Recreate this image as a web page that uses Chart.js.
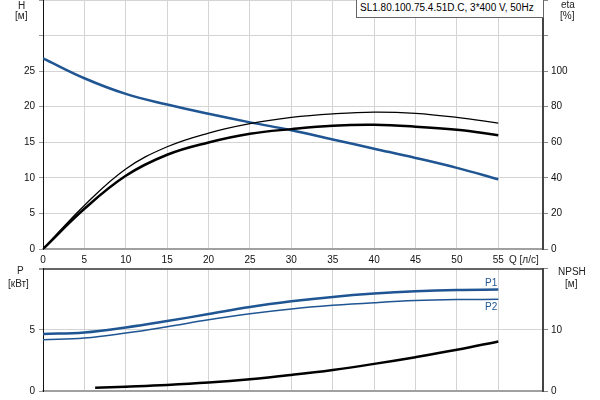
<!DOCTYPE html>
<html>
<head>
<meta charset="utf-8">
<script src="https://cdn.jsdelivr.net/npm/chart.js@4"></script>
<style>
  body { margin: 0; background: #fff; width: 600px; height: 400px; overflow: hidden; position: relative; }
  .wrap { position: absolute; left: 0; width: 600px; }
  .lbl { position: absolute; font: 10px 'Liberation Sans', Arial, sans-serif; line-height: 12px; color: #222; white-space: nowrap; }
  .title { position: absolute; left: 356px; top: -1px; width: 183px; height: 15px; border: 1px solid #666; background: #fff;
           font: 10px 'Liberation Sans', Arial, sans-serif; line-height: 12px; padding: 2px 0 0 3px; box-sizing: content-box; }
</style>
</head>
<body>
<div class="wrap" style="top:0;height:265px"><canvas id="top" width="600" height="265"></canvas></div>
<div class="wrap" style="top:265px;height:135px"><canvas id="bottom" width="600" height="135"></canvas></div>

<div class="title">SL1.80.100.75.4.51D.C, 3*400 V, 50Hz</div>
<div class="lbl" style="left:18px;top:0px">H</div>
<div class="lbl" style="left:15px;top:10px">[м]</div>
<div class="lbl" style="left:561px;top:-1px">eta</div>
<div class="lbl" style="left:560px;top:10px">[%]</div>
<div class="lbl" style="left:509px;top:254px">Q [л/с]</div>
<div class="lbl" style="left:17px;top:265px">P</div>
<div class="lbl" style="left:8px;top:278px">[кВт]</div>
<div class="lbl" style="left:558px;top:266px">NPSH</div>
<div class="lbl" style="left:565px;top:278px">[м]</div>
<div class="lbl" style="left:485px;top:277px;color:#1f5592">P1</div>
<div class="lbl" style="left:485px;top:301px;color:#1f5592">P2</div>

<script>
// flow, l/s
const q = [0, 5, 10, 15, 20, 25, 30, 35, 40, 45, 50, 55];
// head, m
const head = [26.8, 24.0, 21.8, 20.3, 19.0, 17.8, 16.7, 15.4, 14.1, 12.8, 11.4, 9.8];
// efficiency, %
const etaPump = [0, 24.5, 45.0, 57.5, 65.2, 70.5, 74.0, 76.0, 77.0, 76.3, 74.0, 70.8];
const etaTotal = [0, 22.6, 41.2, 53.0, 59.9, 64.8, 67.4, 69.3, 69.8, 68.8, 67.0, 64.0];
// power, kW
const p1 = [4.65, 4.78, 5.19, 5.71, 6.28, 6.86, 7.32, 7.68, 7.95, 8.14, 8.25, 8.28];
const p2 = [4.18, 4.32, 4.73, 5.25, 5.82, 6.31, 6.70, 6.99, 7.21, 7.38, 7.46, 7.48];
// NPSH, m
const qNpsh = [6.3, 10, 15, 20, 25, 30, 35, 40, 45, 50, 55];
const npsh = [0.54, 0.71, 0.98, 1.37, 1.91, 2.62, 3.44, 4.43, 5.52, 6.72, 8.09];

const qTicks = [0, 5, 10, 15, 20, 25, 30, 35, 40, 45, 50, 55];

const BLUE = '#1f5592';
const GRID = '#d4d4d4';

Chart.defaults.font.family = "'Liberation Sans', Arial, sans-serif";
Chart.defaults.font.size = 10;
Chart.defaults.color = '#111';

const pts = (xs, ys) => xs.map((x, i) => ({ x: x, y: ys[i] }));

function line(data, color, width, axis) {
    return {
        data: data,
        borderColor: color,
        borderWidth: width,
        pointRadius: 0,
        showLine: true,
        fill: false,
        tension: 0.4,
        yAxisID: axis
    };
}

// no label overflow padding, so the plot box sits where we put it
function noPad(s) {
    s.paddingTop = 0;
    s.paddingBottom = 0;
    s.paddingLeft = 0;
    s.paddingRight = 0;
}

function xScale(height, showLabels) {
    return {
        type: 'linear',
        min: 0,
        max: 60.4,
        ticks: {
            stepSize: 5,
            display: showLabels,
            padding: 5,
            maxRotation: 0,
            autoSkip: false,
            callback: v => qTicks.includes(v) ? v : ''
        },
        grid: { color: GRID, drawTicks: false },
        border: { color: '#a0a0a0', width: 2 },
        afterFit: s => { s.height = height; noPad(s); }
    };
}

function leftScale(max, step, lastLabel) {
    return {
        position: 'left',
        min: 0,
        max: max,
        ticks: { stepSize: step, padding: 4, callback: v => v <= lastLabel ? v : '' },
        grid: { color: GRID, tickLength: 4, tickColor: '#999' },
        border: { color: '#111', width: 1 },
        afterFit: s => { s.width = 43; noPad(s); }
    };
}

function rightScale(max, step, lastLabel) {
    return {
        position: 'right',
        min: 0,
        max: max,
        ticks: { stepSize: step, padding: 3, callback: v => v <= lastLabel ? v : '' },
        grid: { drawOnChartArea: false, tickLength: 5, tickColor: '#888' },
        border: { color: '#444', width: 2 },
        afterFit: s => { s.width = 57; noPad(s); }
    };
}

const common = {
    responsive: false,
    animation: false,
    plugins: { legend: { display: false }, tooltip: { enabled: false } }
};

new Chart(document.getElementById('top'), {
    type: 'scatter',
    data: {
        datasets: [
            line(pts(q, etaPump), '#000', 1.3, 'eta'),
            line(pts(q, etaTotal), '#000', 2.5, 'eta'),
            line(pts(q, head), BLUE, 2.5, 'h')
        ]
    },
    options: {
        ...common,
        layout: { autoPadding: false, padding: { top: 0, left: 0, right: 0, bottom: 0 } },
        scales: {
            x: xScale(16, true),
            h: leftScale(35, 5, 25),
            eta: rightScale(140, 20, 100)
        }
    }
});

const bottomLeft = leftScale(10, 5, 5);
bottomLeft.grid.color = c => c.tick && c.tick.value === 10 ? '#666' : GRID;
bottomLeft.grid.lineWidth = c => c.tick && c.tick.value === 10 ? 2 : 1;

new Chart(document.getElementById('bottom'), {
    type: 'scatter',
    data: {
        datasets: [
            line(pts(qNpsh, npsh), '#000', 2.5, 'npsh'),
            line(pts(q, p2), BLUE, 1.5, 'p'),
            line(pts(q, p1), BLUE, 2.5, 'p')
        ]
    },
    options: {
        ...common,
        layout: { autoPadding: false, padding: { top: 3.5, left: 0, right: 0, bottom: 0 } },
        scales: {
            x: xScale(9, false),
            p: bottomLeft,
            npsh: rightScale(20, 10, 10)
        }
    }
});
</script>
</body>
</html>
